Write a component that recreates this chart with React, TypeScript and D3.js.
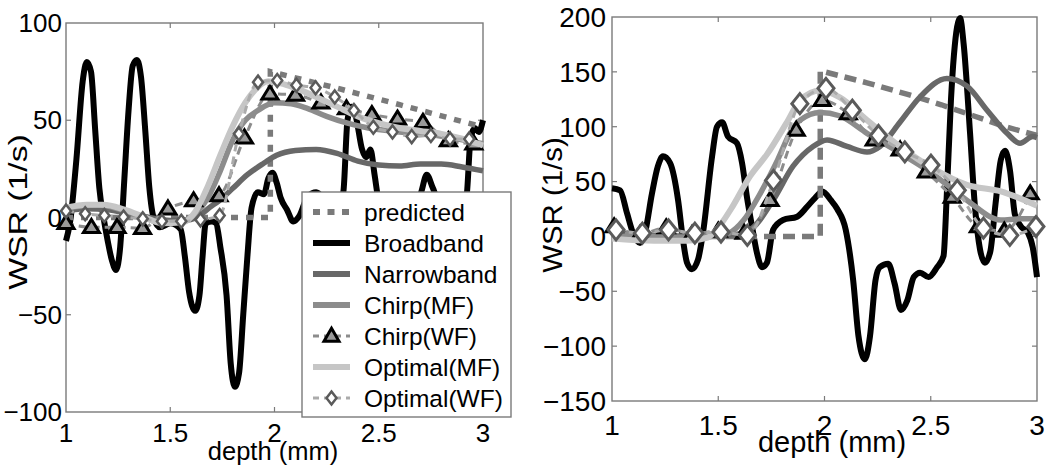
import React from 'react';
import * as d3 from 'd3';

type P = [number, number];

// ---------- shared ----------
const X_TICKS = [1, 1.5, 2, 2.5, 3];
const LEFT_Y_TICKS = [-100, -50, 0, 50, 100];
const RIGHT_Y_TICKS = [-150, -100, -50, 0, 50, 100, 150, 200];
const LEGEND_LABELS = ['predicted', 'Broadband', 'Narrowband', 'Chirp(MF)', 'Chirp(WF)', 'Optimal(MF)', 'Optimal(WF)'];
const X_LABEL = 'depth (mm)';
const Y_LABEL = 'WSR (1/s)';

// ---------- left panel data ----------
const leftPredicted: P[] = [[1.0, 0], [1.98, 0], [1.98, 75], [2.3, 66.5], [2.6, 58], [3.0, 46.5]];
const leftBroadband: P[] = [
  [1.0, -12], [1.02, -2], [1.05, 30], [1.08, 70], [1.1, 80], [1.12, 75], [1.14, 45], [1.16, 15], [1.18, 0],
  [1.2, -12], [1.22, -22], [1.24, -27], [1.26, -15], [1.28, 20], [1.3, 55], [1.32, 78], [1.34, 81], [1.36, 72],
  [1.38, 45], [1.4, 15], [1.42, 0], [1.45, -5], [1.5, -3], [1.55, -6], [1.57, -20], [1.59, -38], [1.62, -48],
  [1.64, -40], [1.655, -20], [1.67, -3], [1.7, -2], [1.72, -3], [1.74, -15], [1.77, -40], [1.79, -75], [1.81, -87],
  [1.83, -80], [1.85, -50], [1.87, -20], [1.89, 5], [1.92, 13], [1.95, 12], [1.97, 20], [1.99, 23], [2.01, 18],
  [2.03, 10], [2.06, 4], [2.09, -2], [2.12, 1], [2.16, 11], [2.2, 13], [2.25, 8], [2.3, 5], [2.33, 13], [2.35, 50],
  [2.37, 57], [2.39, 52], [2.42, 35], [2.44, 31], [2.46, 35], [2.48, 22], [2.5, 9], [2.56, 2], [2.63, 5], [2.7, 12],
  [2.73, 22], [2.76, 15], [2.8, 5], [2.87, 3], [2.92, 10], [2.94, 40], [2.96, 46], [2.98, 44], [3.0, 50],
];
const leftNarrowband: P[] = [
  [1.0, 3.5], [1.1, 4.5], [1.2, 4], [1.3, 2], [1.4, 0], [1.5, -1.5], [1.6, -1], [1.7, 6], [1.75, 10], [1.8, 15],
  [1.87, 22], [1.95, 28], [2.01, 32], [2.1, 34.5], [2.2, 35], [2.3, 33], [2.4, 29], [2.5, 27], [2.6, 26.5],
  [2.7, 27.5], [2.8, 27.5], [2.9, 26], [3.0, 24],
];
const leftChirpMF: P[] = [
  [1.0, 4.5], [1.08, 6], [1.15, 6.5], [1.25, 4.5], [1.35, 1], [1.45, -2.5], [1.55, -2], [1.62, 2], [1.68, 10],
  [1.74, 24], [1.8, 40], [1.86, 50], [1.92, 55], [2.0, 59], [2.08, 58.5], [2.16, 56], [2.25, 52], [2.35, 48.5],
  [2.45, 46], [2.6, 44], [2.75, 42.5], [2.9, 40], [3.0, 38],
];
const leftChirpWF: P[] = [
  [1.0, -3], [1.122, -5], [1.245, -5], [1.367, -5.5], [1.489, 4.5], [1.612, 8.7], [1.734, 11.3], [1.856, 41],
  [1.978, 63.6], [2.101, 63], [2.223, 59], [2.345, 56], [2.467, 53], [2.59, 50.7], [2.712, 49], [2.834, 39.6],
  [2.956, 37.9],
];
const leftOptimalMF: P[] = [
  [1.0, 5], [1.1, 6.5], [1.18, 6.5], [1.28, 4], [1.38, 0], [1.46, -3], [1.56, -2.5], [1.62, 3], [1.68, 16],
  [1.74, 32], [1.8, 47], [1.86, 59], [1.92, 67], [1.97, 70], [2.03, 69], [2.1, 66.5], [2.2, 62], [2.3, 57],
  [2.4, 52], [2.5, 48.5], [2.6, 46], [2.7, 44.5], [2.8, 43], [2.9, 40.5], [3.0, 37],
];
const leftOptimalWF: P[] = [
  [1.0, 3.3], [1.092, 1.9], [1.184, 1], [1.276, 0.2], [1.368, -0.7], [1.46, -1.9], [1.553, -1.9], [1.645, -1.2],
  [1.737, 1], [1.829, 43], [1.921, 69.6], [2.013, 70.4], [2.105, 68], [2.197, 66.7], [2.289, 62], [2.381, 55],
  [2.474, 46.4], [2.566, 44], [2.658, 41.6], [2.75, 42.2], [2.842, 40.4], [2.934, 40.4],
];

// ---------- right panel data ----------
const rightPredicted: P[] = [[1.0, 0], [1.98, 0], [1.98, 151], [2.2, 140], [2.4, 129], [2.55, 120], [2.7, 110], [2.85, 100], [3.0, 92]];
const rightBroadband: P[] = [
  [1.0, 44], [1.038, 42], [1.071, 21], [1.099, 3], [1.132, -6], [1.155, 3], [1.188, 39], [1.216, 64], [1.24, 73],
  [1.273, 67], [1.311, 33], [1.334, -3], [1.353, -24], [1.376, -30], [1.405, -21], [1.428, 3], [1.471, 73],
  [1.494, 100], [1.518, 104], [1.546, 91], [1.588, 85], [1.612, 67], [1.635, 36], [1.659, 9], [1.682, -15],
  [1.706, -28], [1.729, -24], [1.758, 6], [1.805, 15], [1.871, 18], [1.918, 27], [1.955, 35], [1.99, 41],
  [2.03, 33], [2.06, 25], [2.1, 6], [2.135, -40], [2.16, -91], [2.19, -112], [2.214, -91], [2.24, -40],
  [2.26, -28], [2.3, -25], [2.33, -43], [2.36, -67], [2.39, -58], [2.42, -37], [2.45, -33], [2.49, -37],
  [2.53, -28], [2.56, -18], [2.575, 36], [2.595, 124], [2.624, 191], [2.638, 199], [2.655, 175], [2.685, 94],
  [2.708, 27], [2.732, -12], [2.755, -24], [2.78, -14], [2.805, 30], [2.83, 70], [2.85, 78], [2.873, 60],
  [2.896, 20], [2.925, 9], [2.958, 3], [2.98, -10], [3.0, -37],
];
const rightNarrowband: P[] = [
  [1.0, 4], [1.2, 1], [1.4, 0], [1.55, 1], [1.649, 6], [1.758, 33], [1.852, 64], [1.946, 82], [2.012, 88],
  [2.106, 82], [2.2, 77], [2.261, 82], [2.355, 104], [2.449, 127], [2.576, 144], [2.671, 137], [2.765, 115],
  [2.859, 94], [2.92, 85], [2.98, 91], [3.0, 90],
];
const rightChirpMF: P[] = [
  [1.0, 3], [1.2, 0], [1.4, -1], [1.5, 1], [1.55, 3], [1.62, 15], [1.7, 40], [1.78, 70], [1.84, 95], [1.885, 106],
  [1.98, 113], [2.07, 110], [2.2, 94], [2.355, 76], [2.51, 57], [2.67, 33], [2.83, 15], [2.92, 16], [3.0, 16],
];
const rightChirpWF: P[] = [
  [1.01, 9], [1.132, 2], [1.255, 8], [1.377, 2], [1.5, 5], [1.622, 3], [1.744, 33], [1.867, 97], [1.989, 124],
  [2.112, 112], [2.234, 88], [2.356, 79], [2.479, 59], [2.601, 36], [2.724, 9], [2.846, 5], [2.968, 39],
];
const rightOptimalMF: P[] = [
  [1.0, -2], [1.2, -4], [1.35, -4], [1.45, -1], [1.5, 8], [1.56, 25], [1.65, 55], [1.73, 75], [1.82, 103],
  [1.885, 124], [1.98, 133], [2.07, 127], [2.2, 106], [2.355, 82], [2.51, 62], [2.67, 47], [2.83, 41], [3.0, 28],
];
const rightOptimalWF: P[] = [
  [1.019, 6], [1.143, 3], [1.266, 6], [1.39, 3], [1.513, 4], [1.637, 1], [1.76, 51], [1.884, 121], [2.007, 135],
  [2.131, 115], [2.254, 92], [2.378, 77], [2.501, 65], [2.625, 42], [2.748, 7.6], [2.872, 1], [2.995, 9],
];

// ---------- styling ----------
const FONT = '"Liberation Sans", Arial, Helvetica, sans-serif';
const AXIS_COLOR = '#7a7a7a';
const C_PRED = '#7a7a7a';
const C_BROAD = '#000000';
const C_NARROW = '#686868';
const C_CHIRP_MF = '#8c8c8c';
const C_CHIRP_WF = '#8c8c8c';
const C_OPT_MF = '#c6c6c6';
const C_OPT_WF = '#ababab';

type PanelData = {
  predicted: P[]; broadband: P[]; narrowband: P[]; chirpMF: P[]; chirpWF: P[]; optimalMF: P[]; optimalWF: P[];
};

type PanelCfg = {
  px0: number; px1: number; py0: number; py1: number;
  yDomain: [number, number]; yTicks: number[];
  tickFont: number; tickBaseline: number; yTickRight: number;
  xLabelX: number; xLabelY: number; xLabelFont: number;
  yLabelX: number; yLabelY: number; yLabelFont: number; yLabelStretch: number;
  tri: { w: number; h: number; sw: number };
  dia: { w: number; h: number; sw: number };
  predDash: string;
  data: PanelData;
  legend: boolean;
};

function triPath(cx: number, cy: number, w: number, h: number) {
  return `M${cx},${cy - h * 0.6}L${cx + w / 2},${cy + h * 0.4}L${cx - w / 2},${cy + h * 0.4}Z`;
}
function diaPath(cx: number, cy: number, w: number, h: number) {
  return `M${cx},${cy - h / 2}L${cx + w / 2},${cy}L${cx},${cy + h / 2}L${cx - w / 2},${cy}Z`;
}

function STxt(props: { x: number; y: number; size: number; anchor?: string; rotate?: number; sx?: number; dy?: string; children: any }) {
  const { x, y, size, anchor = 'middle', rotate = 0, sx = 1, dy, children } = props;
  let t = `translate(${x},${y})`;
  if (rotate) t += ` rotate(${rotate})`;
  if (sx !== 1) t += ` scale(${sx},1)`;
  return (
    <text transform={t} fontSize={size} textAnchor={anchor as any} dy={dy} fontFamily={FONT} fill="#000">
      {children}
    </text>
  );
}

function Panel({ cfg }: { cfg: PanelCfg }) {
  const x = d3.scaleLinear().domain([1, 3]).range([cfg.px0, cfg.px1]);
  const y = d3.scaleLinear().domain(cfg.yDomain).range([cfg.py0, cfg.py1]);
  const smooth = d3.line<P>().x((d) => x(d[0])).y((d) => y(d[1])).curve(d3.curveMonotoneX);
  const straight = d3.line<P>().x((d) => x(d[0])).y((d) => y(d[1]));
  const D = cfg.data;
  const tl = 5;
  const innerX = X_TICKS.slice(1, -1);
  const innerY = cfg.yTicks.slice(1, -1);

  // legend geometry
  const lg = { x0: 302, y0: 192, x1: 511, y1: 417, row0: 212, step: 31, s0: 313, s1: 350, tx: 364, font: 24.5 };

  return (
    <g>
      {/* axes box */}
      <rect x={cfg.px0} y={cfg.py1} width={cfg.px1 - cfg.px0} height={cfg.py0 - cfg.py1} fill="none" stroke={AXIS_COLOR} strokeWidth={1.4} />
      {innerX.map((t) => (
        <g key={'xt' + t}>
          <line x1={x(t)} x2={x(t)} y1={cfg.py0} y2={cfg.py0 - tl} stroke={AXIS_COLOR} strokeWidth={1.2} />
          <line x1={x(t)} x2={x(t)} y1={cfg.py1} y2={cfg.py1 + tl} stroke={AXIS_COLOR} strokeWidth={1.2} />
        </g>
      ))}
      {innerY.map((t) => (
        <g key={'yt' + t}>
          <line x1={cfg.px0} x2={cfg.px0 + tl} y1={y(t)} y2={y(t)} stroke={AXIS_COLOR} strokeWidth={1.2} />
          <line x1={cfg.px1} x2={cfg.px1 - tl} y1={y(t)} y2={y(t)} stroke={AXIS_COLOR} strokeWidth={1.2} />
        </g>
      ))}

      {/* series */}
      <path d={smooth(D.broadband) || ''} fill="none" stroke={C_BROAD} strokeWidth={6} strokeLinejoin="round" />
      <path d={straight(D.predicted) || ''} fill="none" stroke={C_PRED} strokeWidth={5.5} strokeDasharray={cfg.predDash} />
      <path d={smooth(D.narrowband) || ''} fill="none" stroke={C_NARROW} strokeWidth={5.5} />
      <path d={smooth(D.chirpMF) || ''} fill="none" stroke={C_CHIRP_MF} strokeWidth={5.5} />
      <path d={smooth(D.chirpWF) || ''} fill="none" stroke={C_CHIRP_WF} strokeWidth={3} strokeDasharray="8,5" />
      {D.chirpWF.map((d, i) => (
        <path key={'tr' + i} d={triPath(x(d[0]), y(d[1]), cfg.tri.w, cfg.tri.h)} fill="#9a9a9a" stroke="#000" strokeWidth={cfg.tri.sw} strokeLinejoin="miter" />
      ))}
      <path d={smooth(D.optimalMF) || ''} fill="none" stroke={C_OPT_MF} strokeWidth={6} />
      <path d={smooth(D.optimalWF) || ''} fill="none" stroke={C_OPT_WF} strokeWidth={3} strokeDasharray="8,5" />
      {D.optimalWF.map((d, i) => (
        <path key={'di' + i} d={diaPath(x(d[0]), y(d[1]), cfg.dia.w, cfg.dia.h)} fill="#fff" stroke="#5a5a5a" strokeWidth={cfg.dia.sw} />
      ))}

      {/* tick labels */}
      {X_TICKS.map((t) => (
        <STxt key={'xl' + t} x={x(t)} y={cfg.tickBaseline} size={cfg.tickFont}>{String(t)}</STxt>
      ))}
      {cfg.yTicks.map((t) => (
        <STxt key={'yl' + t} x={cfg.yTickRight} y={y(t)} size={cfg.tickFont} anchor="end" dy="0.35em">
          {t < 0 ? '\u2212' + Math.abs(t) : String(t)}
        </STxt>
      ))}
      <STxt x={cfg.xLabelX} y={cfg.xLabelY} size={cfg.xLabelFont}>{X_LABEL}</STxt>
      <STxt x={cfg.yLabelX} y={cfg.yLabelY} size={cfg.yLabelFont} rotate={-90} sx={cfg.yLabelStretch} dy="0.35em">{Y_LABEL}</STxt>

      {cfg.legend && (
        <g>
          <rect x={lg.x0} y={lg.y0} width={lg.x1 - lg.x0} height={lg.y1 - lg.y0} fill="#fff" stroke={AXIS_COLOR} strokeWidth={1.4} />
          {LEGEND_LABELS.map((lab, i) => {
            const cy = lg.row0 + i * lg.step;
            const mid = (lg.s0 + lg.s1) / 2;
            let sample: any = null;
            if (i === 0) sample = <line x1={lg.s0} x2={lg.s1} y1={cy} y2={cy} stroke={C_PRED} strokeWidth={6} strokeDasharray="7,7.5" />;
            if (i === 1) sample = <line x1={lg.s0} x2={lg.s1} y1={cy} y2={cy} stroke={C_BROAD} strokeWidth={6} />;
            if (i === 2) sample = <line x1={lg.s0} x2={lg.s1} y1={cy} y2={cy} stroke={C_NARROW} strokeWidth={6} />;
            if (i === 3) sample = <line x1={lg.s0} x2={lg.s1} y1={cy} y2={cy} stroke={C_CHIRP_MF} strokeWidth={6} />;
            if (i === 4) sample = (
              <g>
                <line x1={lg.s0} x2={lg.s1} y1={cy} y2={cy} stroke={C_CHIRP_WF} strokeWidth={3} strokeDasharray="6,5" />
                <path d={triPath(mid, cy, 15, 13)} fill="#9a9a9a" stroke="#000" strokeWidth={3} />
              </g>
            );
            if (i === 5) sample = <line x1={lg.s0} x2={lg.s1} y1={cy} y2={cy} stroke={C_OPT_MF} strokeWidth={6} />;
            if (i === 6) sample = (
              <g>
                <line x1={lg.s0} x2={lg.s1} y1={cy} y2={cy} stroke={C_OPT_WF} strokeWidth={3} strokeDasharray="6,5" />
                <path d={diaPath(mid, cy, 10, 13)} fill="#fff" stroke="#5a5a5a" strokeWidth={2.5} />
              </g>
            );
            return (
              <g key={'lg' + i}>
                {sample}
                <STxt x={lg.tx} y={cy} size={lg.font} anchor="start" dy="0.35em">{lab}</STxt>
              </g>
            );
          })}
        </g>
      )}
    </g>
  );
}

const leftCfg: PanelCfg = {
  px0: 66, px1: 483, py0: 412, py1: 23,
  yDomain: [-100, 100], yTicks: LEFT_Y_TICKS,
  tickFont: 26, tickBaseline: 442, yTickRight: 62,
  xLabelX: 273, xLabelY: 460, xLabelFont: 25.5,
  yLabelX: 18, yLabelY: 212, yLabelFont: 25, yLabelStretch: 1.35,
  tri: { w: 16, h: 13, sw: 3 },
  dia: { w: 10, h: 13, sw: 2.5 },
  predDash: '7,8',
  data: {
    predicted: leftPredicted, broadband: leftBroadband, narrowband: leftNarrowband, chirpMF: leftChirpMF,
    chirpWF: leftChirpWF, optimalMF: leftOptimalMF, optimalWF: leftOptimalWF,
  },
  legend: true,
};

const rightCfg: PanelCfg = {
  px0: 612, px1: 1037, py0: 401, py1: 17,
  yDomain: [-150, 200], yTicks: RIGHT_Y_TICKS,
  tickFont: 28, tickBaseline: 435, yTickRight: 606,
  xLabelX: 832, xLabelY: 452, xLabelFont: 29,
  yLabelX: 552, yLabelY: 205, yLabelFont: 28, yLabelStretch: 1.05,
  tri: { w: 16, h: 13, sw: 3 },
  dia: { w: 16, h: 20, sw: 3 },
  predDash: '12,7',
  data: {
    predicted: rightPredicted, broadband: rightBroadband, narrowband: rightNarrowband, chirpMF: rightChirpMF,
    chirpWF: rightChirpWF, optimalMF: rightOptimalMF, optimalWF: rightOptimalWF,
  },
  legend: false,
};

export default function App() {
  return (
    <svg width={1050} height={470} style={{ position: 'absolute', left: 0, top: 0, background: '#fff' }}>
      <rect x={0} y={0} width={1050} height={470} fill="#fff" />
      <Panel cfg={leftCfg} />
      <Panel cfg={rightCfg} />
    </svg>
  );
}
